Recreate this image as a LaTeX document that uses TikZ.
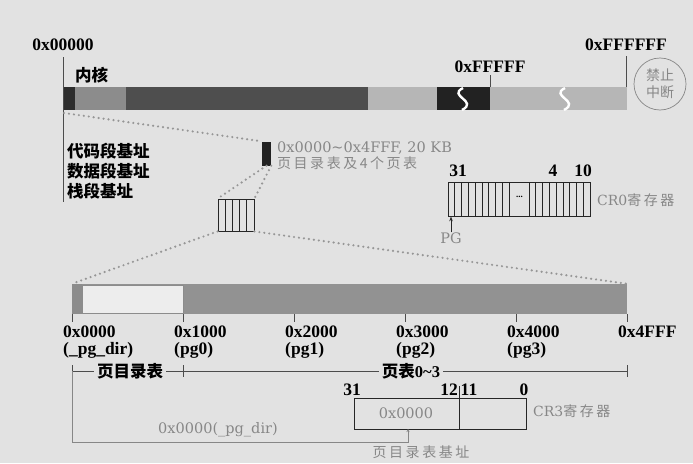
\documentclass[tikz,border=0pt]{standalone}
\usepackage{fontspec}
\setmainfont{Liberation Serif}
\newfontfamily\cjk{Noto Sans CJK SC}
\newfontfamily\cjkgray[LetterSpace=18]{Noto Sans CJK SC}
\newfontfamily\graysf{DejaVu Serif}
\usetikzlibrary{arrows.meta,positioning}

\definecolor{bg}{RGB}{226,226,226}
\definecolor{txtgray}{RGB}{135,135,135}
\definecolor{dotgray}{RGB}{150,150,150}
\definecolor{segA}{RGB}{45,45,45}
\definecolor{segB}{RGB}{140,140,140}
\definecolor{segC}{RGB}{78,78,78}
\definecolor{segD}{RGB}{182,182,182}
\definecolor{segE}{RGB}{34,34,34}
\definecolor{pgfill}{RGB}{146,146,146}

\tikzset{
  hexlbl/.style={font=\fontsize{17.5}{17}\selectfont\bfseries, inner sep=0pt},
  cnlbl/.style={font=\fontsize{16.5}{20}\selectfont\cjk\bfseries, inner sep=0pt},
  graylbl/.style={font=\fontsize{14.5}{15}\selectfont\graysf, text=txtgray, inner sep=0pt},
  graycn/.style={font=\fontsize{14}{15}\selectfont\cjkgray, text=txtgray, inner sep=0pt},
  guide/.style={draw=black!70, line width=0.7pt},
  graywire/.style={draw=txtgray, line width=0.8pt},
  dotline/.style={draw=dotgray, line width=2.4pt, line cap=round, dash pattern=on 0pt off 5pt},
  reg/.style={draw=black!85, line width=0.8pt, inner sep=0pt},
}

\begin{document}
\begin{tikzpicture}[x=1pt,y=-1pt]
  \useasboundingbox[fill=bg] (0,0) rectangle (693,463);

  % linear address space
  \foreach \a/\b/\c in {63/75/segA, 75/126/segB, 126/368/segC, 368/437/segD, 437/490/segE, 490/627/segD}{
    \fill[\c] (\a,87) rectangle (\b,110);
  }
  \draw[white, line width=2.4pt] (463,88) .. controls (447,96) and (479,101) .. (462,110);
  \draw[white, line width=2.4pt] (565,88) .. controls (549,96) and (581,101) .. (564,110);

  \node[hexlbl] (addr0) at (63,45) {0x00000};
  \node[hexlbl] (addr1) at (490,67) {0xFFFFF};
  \node[hexlbl] (addr2) at (626,45) {0xFFFFFF};
  \coordinate (base0) at (63,202);
  \coordinate (end1) at (490,87);
  \coordinate (end2) at (626,87);
  \draw[guide] ([yshift=-6pt]addr0.south) -- (base0);
  \draw[guide] ([yshift=-2pt]addr1.south) -- (end1);
  \draw[guide] ([yshift=-5pt]addr2.south) -- (end2);

  \node[cnlbl, anchor=west] (kernel) at (75,75) {内核};
  \node[circle, draw=txtgray, line width=0.7pt, minimum size=52pt, inner sep=0pt,
        align=center, text=txtgray, font=\fontsize{14}{17}\selectfont\cjk] (irq) at (660,84) {禁止\\中断};

  \node[cnlbl, anchor=west, align=left] (segbase) at (67,171) {代码段基址\\数据段基址\\栈段基址};

  % page directory + tables
  \node[fill=segE, minimum width=9pt, minimum height=24pt, inner sep=0pt] (pgblk) at (266.5,153.5) {};
  \node[graylbl, anchor=west] (pgrange) at (277,148) {0x0000\textasciitilde 0x4FFF, 20 KB};
  \node[graycn, anchor=west] (pgdesc) at (277,163) {页目录表及4个页表};

  \node[reg, minimum width=36pt, minimum height=32pt] (pgbox) at (236,215) {};
  \foreach \i in {1,...,4}{
    \draw[black!85, line width=0.8pt] (218+\i*7.2,199) -- ++(0,32);
  }

  \node[fill=pgfill, minimum width=555pt, minimum height=30pt, inner sep=0pt] (pgmem) at (349.5,299) {};
  \fill[segB] (72,284) rectangle (82,314);
  \filldraw[fill=black!7, draw=black!45, line width=0.7pt] (82,285) rectangle (183,313);

  \draw[dotline] (64,113) -- (pgblk.north west);
  \draw[dotline] (pgblk.south) -- (pgbox.north west);
  \draw[dotline] (pgblk.south east) -- (pgbox.north east);
  \draw[dotline] (pgbox.south west) -- (pgmem.north west);
  \draw[dotline] (pgbox.south east) -- (pgmem.north east);

  \foreach \x/\a/\b [count=\i] in {72/0x0000/(\_pg\_dir), 183/0x1000/(pg0), 294/0x2000/(pg1),
                                   405/0x3000/(pg2), 516/0x4000/(pg3), 627/0x4FFF/{}}{
    \draw[guide] (\x,314) -- (\x,322);
    \node[hexlbl, anchor=north west, align=left] (off\i) at (\x-9,326) {\a\\\b};
  }

  % extent brackets
  \coordinate (br0) at (72,371);
  \coordinate (br1) at (183,371);
  \coordinate (br2) at (627,371);
  \draw[guide] (br0) -- (br2);
  \foreach \p in {br0,br1,br2}{
    \draw[guide] ([yshift=6pt]\p) -- ([yshift=-6pt]\p);
  }
  \node[cnlbl, fill=bg, inner xsep=3pt] (dirlbl) at (130,371) {页目录表};
  \node[cnlbl, fill=bg, inner xsep=3pt] (tbllbl) at (411,371) {页表{\rmfamily\bfseries 0\textasciitilde 3}};

  % CR0
  \node[reg, minimum width=142pt, minimum height=34pt] (cr0) at (519,199) {};
  \foreach \i in {1,...,9}{
    \draw[black!85, line width=0.8pt] (448+\i*6.8,182) -- ++(0,34);
    \draw[black!85, line width=0.8pt] (529+\i*6.8-6.8,182) -- ++(0,34);
  }
  \node[font=\small] (cr0dots) at (519.5,197) {\textbf{...}};
  \node[hexlbl] (b31) at (458,171) {31};
  \node[hexlbl] (b4) at (553,171) {4};
  \node[hexlbl] (b10) at (583,171) {10};
  \node[graycn, anchor=west] (cr0lbl) at (597,200) {{\graysf CR0}寄存器};
  \node[graylbl] (pglbl) at (451,238) {PG};
  \draw[black!85, line width=0.8pt, -{Stealth[length=5pt,width=3.5pt]}] (pglbl.north) -- (pglbl.north |- cr0.south);

  % CR3
  \node[reg, minimum width=172pt, minimum height=31pt] (cr3) at (440,413.5) {};
  \coordinate (split) at (459,386);
  \draw[black!85, line width=0.8pt] (split) -- (split |- cr3.south);
  \node[hexlbl] (c31) at (352,390) {31};
  \node[hexlbl] (c12) at (449,390) {12};
  \node[hexlbl] (c11) at (469,390) {11};
  \node[hexlbl] (c0) at (524,390) {0};
  \node[graylbl] (cr3val) at (406,413) {0x0000};
  \node[graycn, anchor=west] (cr3lbl) at (533,411) {{\graysf CR3}寄存器};
  \node[graycn] (dirbase) at (421,452) {页目录表基址};

  \coordinate (cr3base) at (408,429);
  \draw[graywire, -{Stealth[length=3pt,width=3pt]}] (br0) -- (72,442) -| (cr3base);
  \node[graylbl] (pgdir) at (218,430) {0x0000(\_pg\_dir)};
\end{tikzpicture}
\end{document}
